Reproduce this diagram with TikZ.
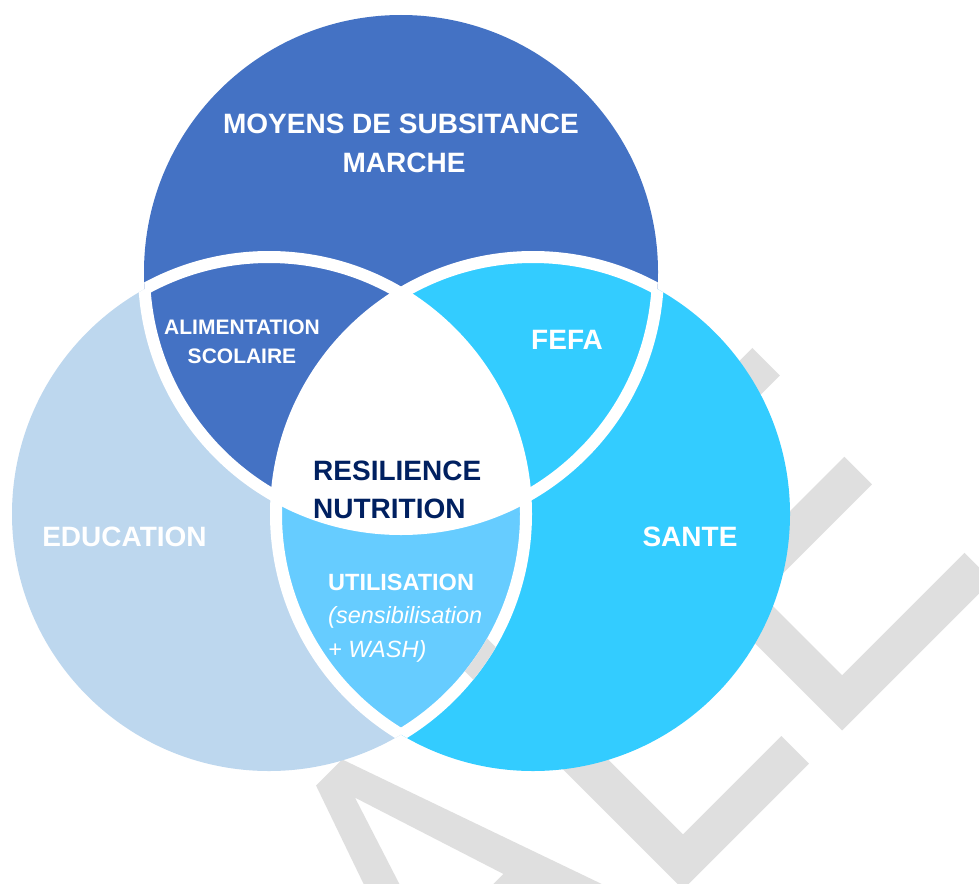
\documentclass[tikz,border=0pt]{standalone}
\usepackage{fontspec}
\setmainfont{Liberation Sans}
\definecolor{cTop}{HTML}{4472C4}
\definecolor{cLeft}{HTML}{BDD7EE}
\definecolor{cRight}{HTML}{33CCFF}
\definecolor{cLR}{HTML}{66CCFF}
\definecolor{cNavy}{HTML}{002060}
\definecolor{cWm}{HTML}{DFDFDF}
\newcommand{\drawwatermark}{%
  \begin{scope}[x={(0.7071pt,0.7071pt)},y={(-0.7071pt,0.7071pt)}]
    % A
    \fill[cWm, even odd rule] (-448,-1112) -- (-332,-779) -- (-295,-779) -- (-178,-1112)
      -- (-218,-1112) -- (-249.7,-1013) -- (-376.3,-1013) -- (-408,-1112) -- cycle
      (-313,-815) -- (-262,-974) -- (-364,-974) -- cycle;
    % L
    \fill[cWm] (-146,-1112) -- (32,-1112) -- (32,-1073) -- (-107,-1073) -- (-107,-778) -- (-146,-778) -- cycle;
    % E
    \fill[cWm] (79,-1112) -- (291,-1112) -- (291,-1073) -- (118,-1073) -- (118,-959) -- (274,-959)
      -- (274,-920) -- (118,-920) -- (118,-817) -- (286,-817) -- (286,-778) -- (79,-778) -- cycle;
  \end{scope}}
\tikzset{
  lbl/.style={inner sep=0pt, text=white, font=\bfseries\fontsize{28}{28}\selectfont},
  lblsmall/.style={inner sep=0pt, text=white, font=\bfseries\fontsize{21}{21}\selectfont},
  lblmid/.style={inner sep=0pt, text=white, font=\bfseries\fontsize{23.5}{23.5}\selectfont},
  lblit/.style={inner sep=0pt, text=white, font=\itshape\fontsize{23.5}{23.5}\selectfont},
  lblcore/.style={inner sep=0pt, text=cNavy, font=\bfseries\fontsize{28}{28}\selectfont},
}
\begin{document}
\begin{tikzpicture}[x=1pt,y=-1pt]
  \fill[white] (0,0) rectangle (979,883);
  \useasboundingbox (0,0) rectangle (979,883);
  \coordinate (T) at (401,272);
  \coordinate (L) at (269,514);
  \coordinate (R) at (533,514);
  \def\rr{257pt}
  \drawwatermark
  % circle fills
  \fill[cLeft] (L) circle[radius=\rr];
  \fill[cRight] (R) circle[radius=\rr];
  \fill[cTop] (T) circle[radius=\rr];
  \begin{scope}
    \clip (L) circle[radius=\rr];
    \fill[cLR] (R) circle[radius=\rr];
  \end{scope}
  \begin{scope}
    \clip (T) circle[radius=\rr];
    \fill[cRight] (R) circle[radius=\rr];
  \end{scope}
  \begin{scope}
    \clip (T) circle[radius=\rr];
    \clip (L) circle[radius=\rr];
    \fill[white] (R) circle[radius=\rr];
  \end{scope}
  % gaps
  \begin{scope}
    \clip (L) circle[radius=\rr] (R) circle[radius=\rr];
    \begin{scope}[even odd rule]
      \clip (T) circle[radius=263pt] (T) circle[radius=251pt];
      \fill[white] (0,0) rectangle (979,883);
      \drawwatermark
    \end{scope}
  \end{scope}
  \begin{scope}
    \clip (T) circle[radius=\rr] (R) circle[radius=\rr];
    \begin{scope}[even odd rule]
      \clip (L) circle[radius=263pt] (L) circle[radius=251pt];
      \fill[white] (0,0) rectangle (979,883);
      \drawwatermark
    \end{scope}
  \end{scope}
  \begin{scope}
    \clip (T) circle[radius=\rr] (L) circle[radius=\rr];
    \begin{scope}[even odd rule]
      \clip (R) circle[radius=263pt] (R) circle[radius=251pt];
      \fill[white] (0,0) rectangle (979,883);
      \drawwatermark
    \end{scope}
  \end{scope}
  % labels
  \node[lbl, anchor=base] (moyens) at (401,133) {MOYENS DE SUBSITANCE};
  \node[lbl, anchor=base] (marche) at (404,172) {MARCHE};
  \node[lblsmall, anchor=base] (alim) at (242,334) {ALIMENTATION};
  \node[lblsmall, anchor=base] (scol) at (242,363) {SCOLAIRE};
  \node[lbl, anchor=base] (fefa) at (567,349) {FEFA};
  \node[lblcore, anchor=base west] (resil) at (313,480) {RESILIENCE};
  \node[lblcore, anchor=base west] (nutri) at (313,518) {NUTRITION};
  \node[lbl, anchor=base] (edu) at (124.5,546) {EDUCATION};
  \node[lbl, anchor=base] (sante) at (690,546) {SANTE};
  \node[lblmid, anchor=base west] (util) at (328,590) {UTILISATION};
  \node[lblit, anchor=base west] (sens) at (328,623) {(sensibilisation};
  \node[lblit, anchor=base west] (wash) at (328,657) {+ WASH)};
\end{tikzpicture}
\end{document}
